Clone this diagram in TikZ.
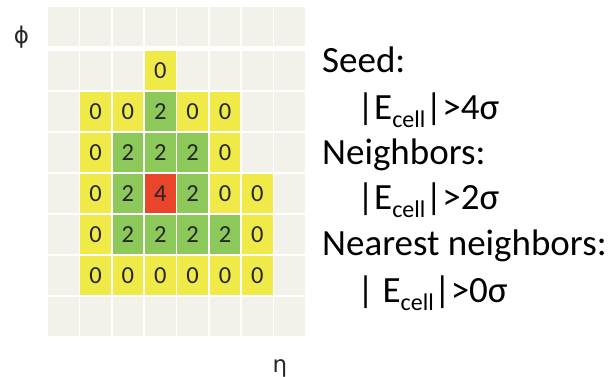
\documentclass[tikz,border=0pt]{standalone}
\usepackage{fontspec}
\setmainfont{Carlito}
\newfontfamily\greekfont{DejaVu Sans}
\usetikzlibrary{positioning}
\definecolor{cGrey}{HTML}{F2F1EA}
\definecolor{cYellow}{HTML}{F0EA48}
\definecolor{cGreen}{HTML}{8CC85A}
\definecolor{cRed}{HTML}{E8452A}
\definecolor{cInk}{HTML}{262626}
\newcommand{\Ecell}{E\raisebox{-8pt}{\fontsize{24}{24}\selectfont cell}}

\begin{document}
\begin{tikzpicture}[x=1pt, y=-1pt,
      cell/.style={draw=none, inner sep=0pt, minimum width=30.8pt,
                   font=\fontsize{24.5}{24.5}\selectfont, text=cInk},
      celle/.style={cell, fill=cGrey, node contents={}},
      celly/.style={cell, fill=cYellow, node contents=0},
      cellg/.style={cell, fill=cGreen, node contents=2},
      cellr/.style={cell, fill=cRed, node contents=4},
      axis/.style={inner sep=0pt, text=cInk, font=\greekfont\fontsize{23}{23}\selectfont},
      cut/.style={anchor=base west, inner sep=0pt,
                  font=\fontsize{37}{37}\selectfont}]
    \useasboundingbox (0,0) rectangle (611,377);
    % energy grid, one row per line
    \foreach \cells [count=\r] in {
        {e,e,e,e,e,e,e,e},
        {e,e,e,y,e,e,e,e},
        {e,y,y,g,y,y,e,e},
        {e,y,g,g,g,y,e,e},
        {e,y,g,r,g,y,y,e},
        {e,y,g,g,g,g,y,e},
        {e,y,y,y,y,y,y,e},
        {e,e,e,e,e,e,e,e}}{
      \pgfmathsetmacro\cy{\r==1 ? 26.5 : 70.5+41*(\r-2)}
      \pgfmathsetmacro\ch{\r==1 ? 38.5 : 39.4}
      \foreach \kind [count=\c] in \cells
        \node[name=cell-\r-\c, at={({47+32.375*(\c-0.5)}, \cy)},
              minimum height=\ch pt, cell\kind];
    }
    \node[axis] (phi) at (21.5,37.5) {ϕ};
    \node[axis] (eta) at (280,368) {η};
    % thresholds
    \node[cut] (seed) at (322,73) {Seed:};
    \node[cut] (seedcut) at (357,120) {|\Ecell|>4σ};
    \node[cut] (nbr) at (322,165) {Neighbors:};
    \node[cut] (nbrcut) at (357,210) {|\Ecell|>2σ};
    \node[cut] (nearest) at (322,255) {Nearest neighbors:};
    \node[cut] (nearestcut) at (357,302) {| \Ecell|>0σ};
  \end{tikzpicture}
\end{document}
